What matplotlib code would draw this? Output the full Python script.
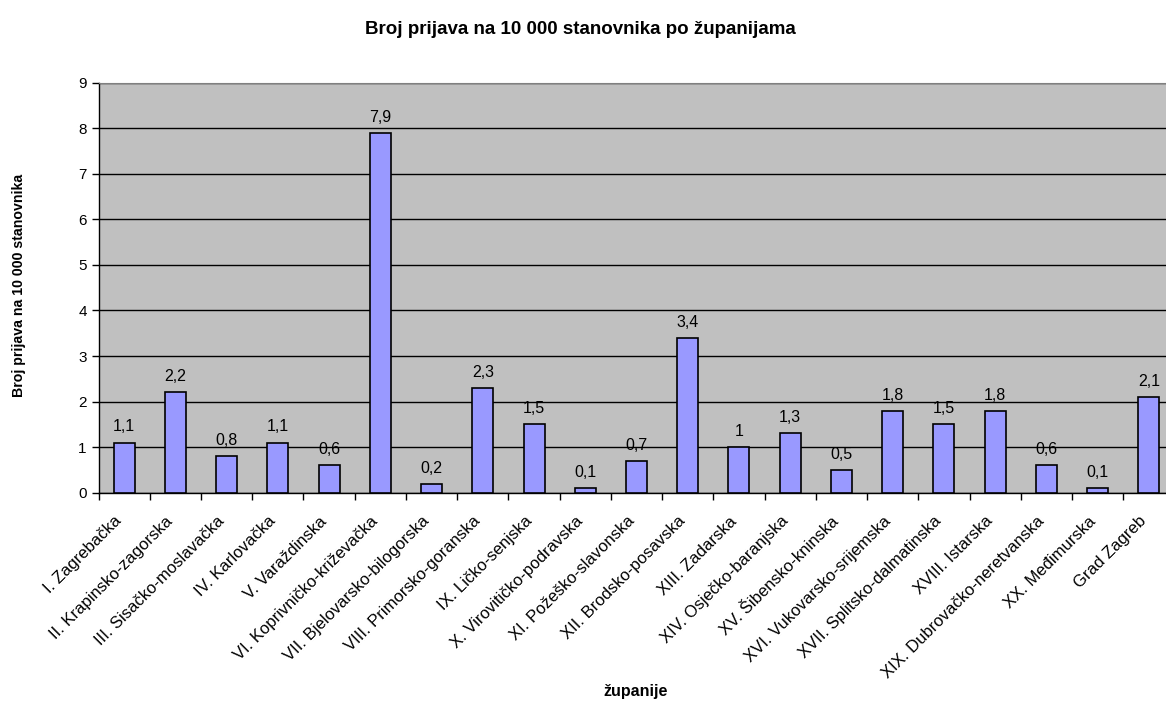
import matplotlib

matplotlib.use("Agg")
import matplotlib.pyplot as plt
import matplotlib.transforms as mtransforms
import numpy as np

zupanije = [
    "I. Zagrebačka", "II. Krapinsko-zagorska", "III. Sisačko-moslavačka",
    "IV. Karlovačka", "V. Varaždinska", "VI. Koprivničko-križevačka",
    "VII. Bjelovarsko-bilogorska", "VIII. Primorsko-goranska", "IX. Ličko-senjska",
    "X. Virovitičko-podravska", "XI. Požeško-slavonska", "XII. Brodsko-posavska",
    "XIII. Zadarska", "XIV. Osječko-baranjska", "XV. Šibensko-kninska",
    "XVI. Vukovarsko-srijemska", "XVII. Splitsko-dalmatinska", "XVIII. Istarska",
    "XIX. Dubrovačko-neretvanska", "XX. Međimurska", "Grad Zagreb",
]
prijave = [1.1, 2.2, 0.8, 1.1, 0.6, 7.9, 0.2, 2.3, 1.5, 0.1, 0.7, 3.4,
           1.0, 1.3, 0.5, 1.8, 1.5, 1.8, 0.6, 0.1, 2.1]
y_ticks = list(range(0, 10))

plt.rcParams["font.family"] = ["Liberation Sans", "DejaVu Sans"]

fig = plt.figure(figsize=(11.66, 7.02), dpi=100)
# plot area runs past the right edge of the picture, as in the original export
ax = fig.add_axes((0.0845, 0.2981, 0.9228, 0.5843))
ax.set_facecolor("#C0C0C0")

x = np.arange(len(zupanije))
ax.bar(x, prijave, width=0.41, color="#9999FF", edgecolor="black", linewidth=1.2, zorder=3)

for xi, v in zip(x, prijave):
    txt = f"{v:g}".replace(".", ",")
    ax.annotate(txt, (xi, v), xytext=(0, 8), textcoords="offset points",
                ha="center", va="baseline", fontsize=11.5, zorder=4)

ax.set_xlim(-0.5, len(zupanije) - 0.5)
ax.set_ylim(0, 9)
ax.set_yticks(y_ticks)
ax.yaxis.grid(True, color="black", linewidth=1.0, zorder=1)
ax.set_axisbelow(True)

ax.set_xticks(x)
ax.set_xticklabels(zupanije, rotation=45, ha="right", rotation_mode="anchor", fontsize=12)
ax.set_xticks(np.arange(-0.5, len(zupanije)), minor=True)
ax.tick_params(axis="x", which="major", length=0, pad=15)
ax.tick_params(axis="x", which="minor", length=5, width=1, direction="out")
ax.tick_params(axis="y", length=5, width=1, direction="out", labelsize=11)

ax.spines["top"].set_color("#808080")
ax.spines["right"].set_visible(False)
for side in ("left", "bottom"):
    ax.spines[side].set_color("black")
    ax.spines[side].set_linewidth(1.0)

fig.text(0.4974, 0.958, "Broj prijava na 10 000 stanovnika po županijama",
         ha="center", va="center", fontsize=13.5, fontweight="bold")
fig.text(0.5455, 0.015, "županije", ha="center", va="center", fontsize=11.5, fontweight="bold")
fig.text(0.016, 0.594, "Broj prijava na 10 000 stanovnika", ha="center", va="center",
         rotation=90, fontsize=10.2, fontweight="bold")

# nudge the slanted category labels left so they end just short of the bar centre
fig.canvas.draw()
shift = mtransforms.ScaledTranslation(-10 / 100, 0, fig.dpi_scale_trans)
for lab in ax.get_xticklabels():
    lab.set_transform(lab.get_transform() + shift)

fig.savefig("out.png", dpi=100)
